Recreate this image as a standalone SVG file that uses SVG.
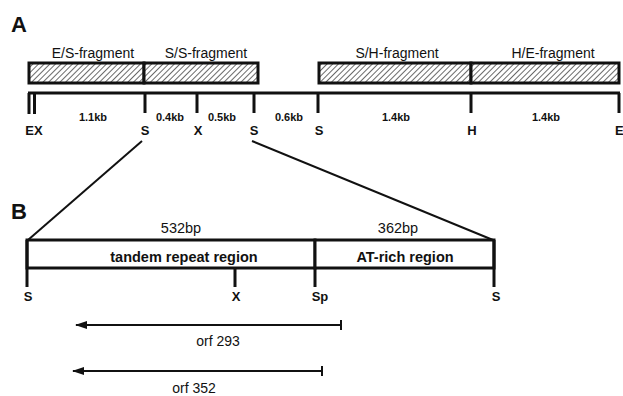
<svg xmlns="http://www.w3.org/2000/svg" width="623" height="396" viewBox="0 0 623 396">
<defs>
<pattern id="hatch" patternUnits="userSpaceOnUse" width="4" height="4" patternTransform="rotate(45)">
<rect width="4" height="4" fill="#fff"/>
<line x1="0" y1="0" x2="0" y2="4" stroke="#444" stroke-width="1.6"/>
</pattern>
<marker id="ah" markerWidth="12" markerHeight="8" refX="11" refY="4" orient="auto" markerUnits="userSpaceOnUse">
<path d="M0,0 L12,4 L0,8 Z" fill="#111"/>
</marker>
</defs>
<style>
.t{font-family:"Liberation Sans",Arial,sans-serif;fill:#111}
.frag{font-size:14px}
.kb{font-size:11px;font-weight:bold}
.site{font-size:13px;font-weight:bold}
.reg{font-size:14.5px;font-weight:bold}
.bp{font-size:14.5px}
.orf{font-size:14px}
.panel{font-size:22px;font-weight:bold}
.thick{stroke:#111;stroke-width:3;fill:none}
.thin{stroke:#111;stroke-width:2;fill:none}
.box{stroke:#111;stroke-width:3}
</style>
<rect width="623" height="396" fill="#fff"/>

<text class="t panel" x="11" y="32">A</text>
<text class="t panel" x="11" y="219">B</text>

<g id="fragments">
<g id="es-fragment">
<rect class="box" x="29" y="63" width="115" height="20" fill="url(#hatch)"/>
<text class="t frag" x="93" y="58" text-anchor="middle">E/S-fragment</text>
</g>
<g id="ss-fragment">
<rect class="box" x="144" y="63" width="114" height="20" fill="url(#hatch)"/>
<text class="t frag" x="206" y="58" text-anchor="middle">S/S-fragment</text>
</g>
<g id="sh-fragment">
<rect class="box" x="319" y="63" width="152" height="20" fill="url(#hatch)"/>
<text class="t frag" x="397" y="58" text-anchor="middle">S/H-fragment</text>
</g>
<g id="he-fragment">
<rect class="box" x="471" y="63" width="148" height="20" fill="url(#hatch)"/>
<text class="t frag" x="553" y="58" text-anchor="middle">H/E-fragment</text>
</g>
</g>

<g id="map-a">
<path class="thick" d="M28,93 H620 M29,93 V114 M34.5,93 V114 M145,93 V113 M197,93 V113 M254,93 V113 M318,93 V113 M471,93 V113 M619,93 V113"/>
<text class="t kb" x="93" y="121" text-anchor="middle">1.1kb</text>
<text class="t kb" x="170" y="121" text-anchor="middle">0.4kb</text>
<text class="t kb" x="222" y="121" text-anchor="middle">0.5kb</text>
<text class="t kb" x="289" y="121" text-anchor="middle">0.6kb</text>
<text class="t kb" x="396" y="121" text-anchor="middle">1.4kb</text>
<text class="t kb" x="546" y="121" text-anchor="middle">1.4kb</text>
<text class="t site" x="34" y="135" text-anchor="middle">EX</text>
<text class="t site" x="145" y="135" text-anchor="middle">S</text>
<text class="t site" x="198" y="135" text-anchor="middle">X</text>
<text class="t site" x="254" y="135" text-anchor="middle">S</text>
<text class="t site" x="319" y="135" text-anchor="middle">S</text>
<text class="t site" x="472" y="135" text-anchor="middle">H</text>
<text class="t site" x="615" y="135">E</text>
</g>

<g id="connectors">
<line class="thin" x1="142" y1="141" x2="28" y2="240" stroke-width="1.8"/>
<line class="thin" x1="252" y1="141" x2="493" y2="240" stroke-width="1.8"/>
</g>

<g id="map-b">
<g id="tandem-repeat-region">
<rect class="box" x="27" y="240" width="288" height="28" fill="#fff"/>
<text class="t reg" x="184" y="262" text-anchor="middle">tandem repeat region</text>
<text class="t bp" x="181" y="233" text-anchor="middle">532bp</text>
</g>
<g id="at-rich-region">
<rect class="box" x="315" y="240" width="179" height="28" fill="#fff"/>
<text class="t reg" x="405" y="262" text-anchor="middle">AT-rich region</text>
<text class="t bp" x="398" y="233" text-anchor="middle">362bp</text>
</g>
<path class="thick" d="M27,240 V287 M235,268 V287 M315,268 V287 M494,240 V287"/>
<text class="t site" x="28" y="301" text-anchor="middle">S</text>
<text class="t site" x="236" y="301" text-anchor="middle">X</text>
<text class="t site" x="320" y="301" text-anchor="middle">Sp</text>
<text class="t site" x="496" y="301" text-anchor="middle">S</text>
</g>

<g id="orf293">
<path class="thin" d="M341,325 H76" marker-end="url(#ah)"/>
<path class="thin" d="M341,320 V330"/>
<text class="t orf" x="218" y="346" text-anchor="middle">orf 293</text>
</g>
<g id="orf352">
<path class="thin" d="M322,371 H73" marker-end="url(#ah)"/>
<path class="thin" d="M322,366 V376"/>
<text class="t orf" x="194" y="393" text-anchor="middle">orf 352</text>
</g>
</svg>
